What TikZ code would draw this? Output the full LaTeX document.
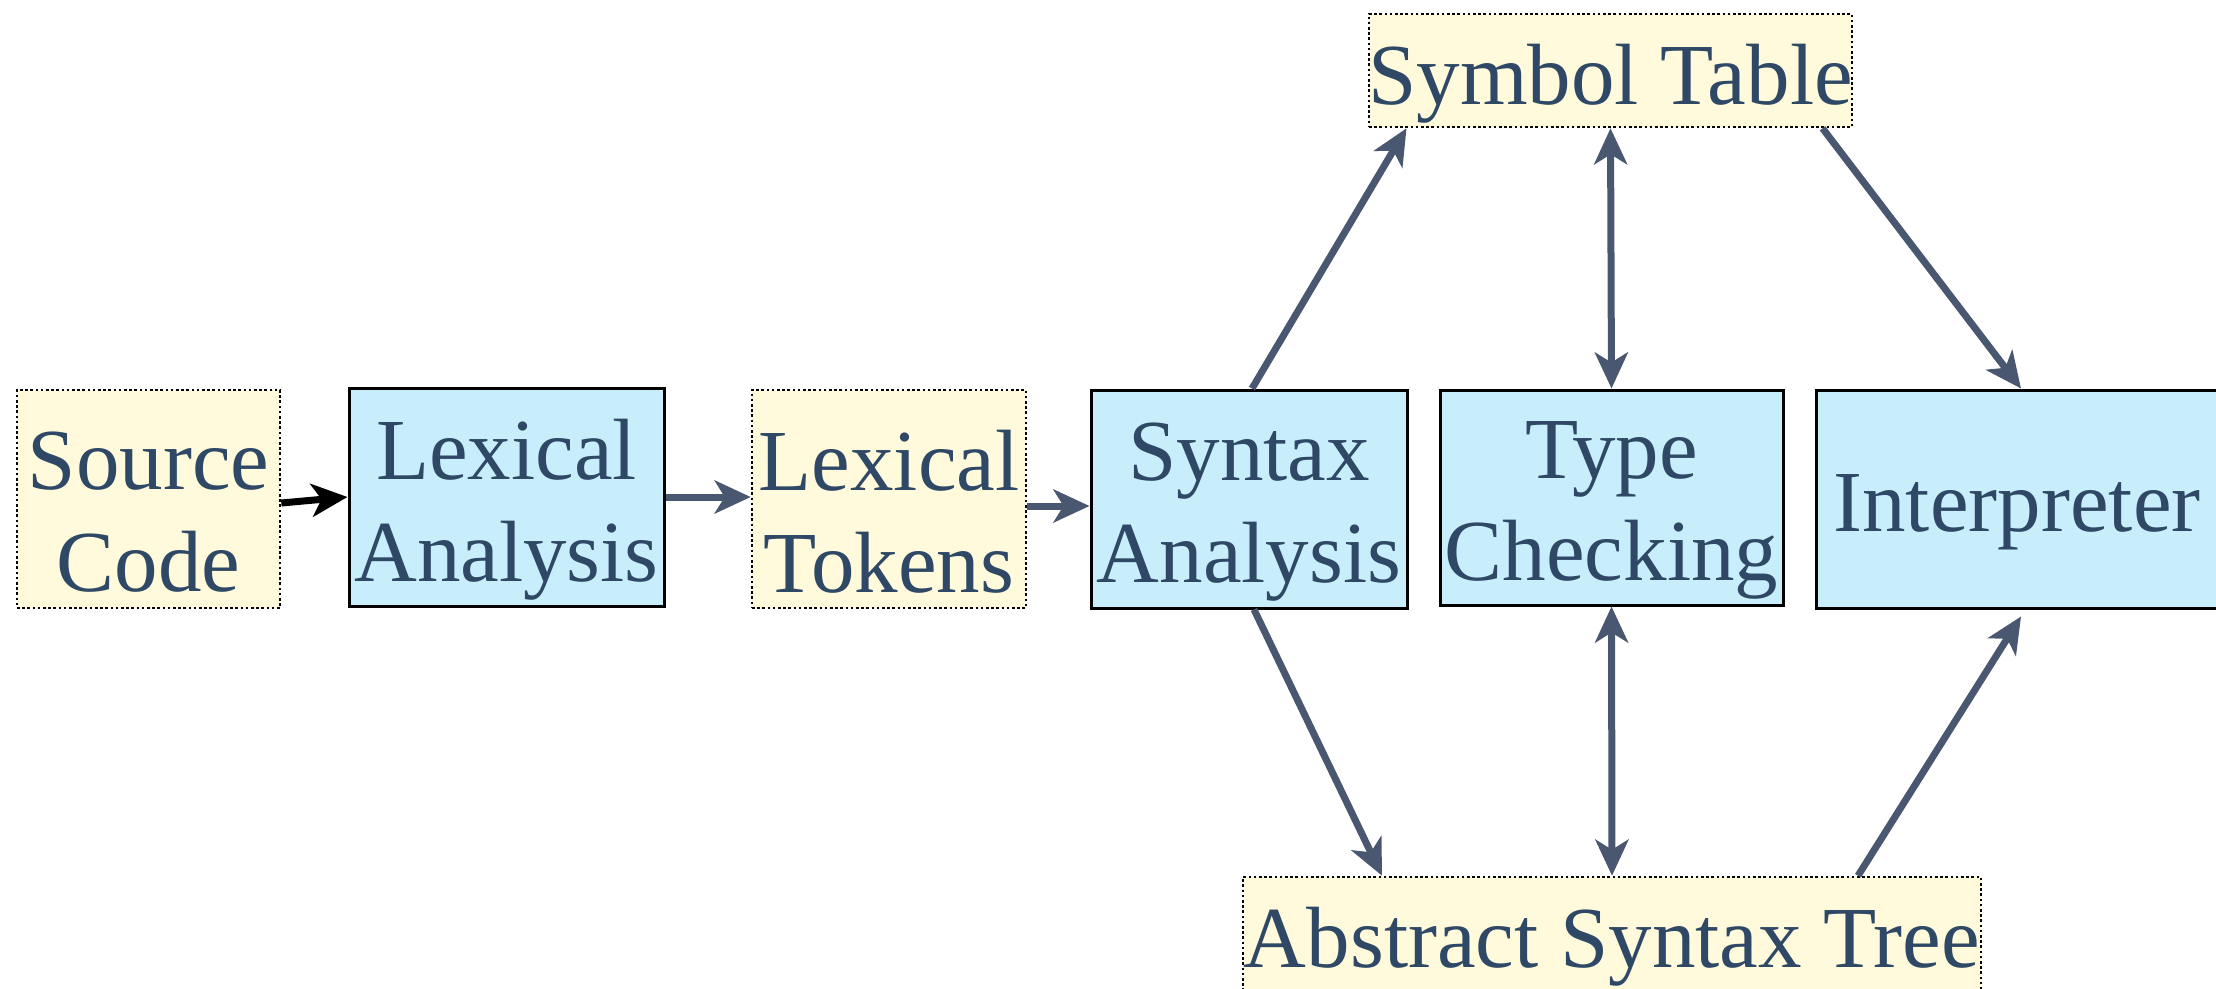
\documentclass[tikz,border=0pt]{standalone}
\usepackage{fontspec}
\setmainfont{Liberation Serif}
\usetikzlibrary{arrows.meta}
\definecolor{txt}{RGB}{46,72,101}
\definecolor{arr}{RGB}{74,87,112}
\definecolor{cream}{RGB}{255,250,220}
\definecolor{sky}{RGB}{200,238,252}
\tikzset{
  x=1pt, y=-1pt,
  lbl/.style={text=txt, font=\fontsize{87}{102}\selectfont, align=center, inner sep=0pt, yshift=-13pt},
  datbox/.style={draw=black, fill=cream, line width=2.6pt, dash pattern=on 2.6pt off 2.6pt, inner sep=0pt},
  stagebox/.style={draw=black, fill=sky, line width=3pt, inner sep=0pt},
  flow/.style={draw=arr, line width=7pt, -{Stealth[length=36pt, width=33pt, inset=10pt]}},
  both/.style={flow, {Stealth[length=36pt, width=33pt, inset=10pt]}-{Stealth[length=36pt, width=33pt, inset=10pt]}},
}
\begin{document}
\begin{tikzpicture}
\useasboundingbox (0,0) rectangle (2216,988);
\begin{scope}
\clip (0,0) rectangle (2216,988);
% data items (dotted) and processing stages (solid)
\node[datbox, minimum width=263pt, minimum height=218pt,
  label={[lbl]center:Source\\Code}] (src) at (148.5,499) {};
\node[stagebox, minimum width=315pt, minimum height=218pt,
  label={[lbl]center:Lexical\\Analysis}] (lex) at (506.5,497) {};
\node[datbox, minimum width=274pt, minimum height=218pt,
  label={[lbl]center:Lexical\\Tokens}] (tok) at (889,499) {};
\node[stagebox, minimum width=316pt, minimum height=218pt,
  label={[lbl]center:Syntax\\Analysis}] (syn) at (1249,499) {};
\node[stagebox, minimum width=343pt, minimum height=215pt,
  label={[lbl]center:Type\\Checking}] (typ) at (1611.5,497.5) {};
\node[stagebox, minimum width=402pt, minimum height=218pt,
  label={[lbl]center:Interpreter}] (int) at (2017,499) {};
\node[datbox, minimum width=483pt, minimum height=113pt,
  label={[lbl]center:Symbol Table}] (sym) at (1610.5,70.5) {};
\node[datbox, minimum width=738pt, minimum height=113pt,
  label={[lbl]center:Abstract Syntax Tree}] (ast) at (1612,933.5) {};
\end{scope}
% pipeline connectors
\draw[flow, draw=black] ([yshift=-4pt]src.east) -- (lex.west);
\draw[flow] ([yshift=0pt]lex.east) -- ([yshift=2pt]tok.west);
\draw[flow] ([yshift=-7pt]tok.east) -- ([yshift=-7pt]syn.west);
% symbol table links
\draw[flow] ([xshift=3pt]syn.north) -- ([xshift=-204pt]sym.south);
\draw[both] (sym.south) -- (typ.north);
\draw[flow] ([xshift=212pt]sym.south) -- ([xshift=4pt]int.north);
% abstract syntax tree links
\draw[flow] ([xshift=5pt]syn.south) -- ([xshift=-230pt]ast.north);
\draw[both] (typ.south) -- (ast.north);
\draw[flow] ([xshift=246pt]ast.north) -- ([xshift=4pt,yshift=-7pt]int.south);
\end{tikzpicture}
\end{document}
